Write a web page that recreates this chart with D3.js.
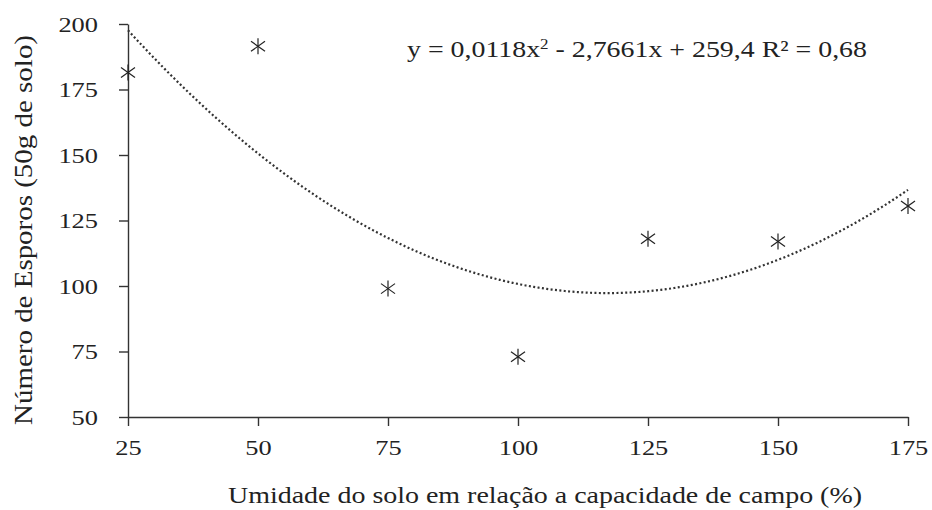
<!DOCTYPE html>
<html>
<head>
<meta charset="utf-8">
<script src="https://d3js.org/d3.v7.min.js"></script>
<style>
  body { margin: 0; background: #fff; }
  text { font-family: "Liberation Serif", "Times New Roman", Times, serif; fill: #222; }
</style>
</head>
<body>
<div id="chart"></div>
<script>
// data
const umidade = [25, 50, 75, 100, 125, 150, 175];
const esporos = [181.5, 191.5, 99, 73, 118, 117, 130.5];
// trend line coefficients as printed on the chart (a, b, c)
const coef = [0.0118, -2.7661, 259.4];
const xTicks = [25, 50, 75, 100, 125, 150, 175];
const yTicks = [50, 75, 100, 125, 150, 175, 200];

const width = 932, height = 510;
const margin = {top: 24, right: 24, bottom: 93, left: 128};
const serif = "'Liberation Serif', 'Times New Roman', Times, serif";

const svg = d3.select("#chart").append("svg")
  .attr("width", width)
  .attr("height", height);

const x = d3.scaleLinear().domain([25, 175]).range([margin.left, width - margin.right]);
const y = d3.scaleLinear().domain([50, 200]).range([height - margin.bottom, margin.top]);

// x axis
const gx = svg.append("g")
  .attr("transform", `translate(0,${height - margin.bottom})`)
  .call(d3.axisBottom(x).tickValues(xTicks).tickSize(9).tickSizeOuter(0).tickPadding(13));
// y axis
const gy = svg.append("g")
  .attr("transform", `translate(${margin.left},0)`)
  .call(d3.axisLeft(y).tickValues(yTicks).tickSize(9).tickSizeOuter(0).tickPadding(16));

[gx, gy].forEach(g => {
  g.attr("font-family", serif);
  g.select(".domain").attr("stroke", "#333").attr("stroke-width", 1.4);
  g.selectAll(".tick line").attr("stroke", "#333").attr("stroke-width", 1.4);
  g.selectAll(".tick text")
    .attr("font-size", 22)
    .attr("fill", "#222")
    .attr("transform", "scale(1.2,1)");
});
gx.selectAll(".tick text").attr("dy", "0.75em");

// trend line
const curveX = d3.range(25, 175.5, 0.5);
const trend = d3.line()
  .x(d => x(d))
  .y(d => y(coef[0] * d * d + coef[1] * d + coef[2]));
svg.append("path")
  .datum(curveX)
  .attr("fill", "none")
  .attr("stroke", "#333")
  .attr("stroke-width", 2.2)
  .attr("stroke-dasharray", "2,2.4")
  .attr("d", trend);

// asterisk markers
const pts = svg.append("g").selectAll("g")
  .data(umidade.map((u, i) => [u, esporos[i]]))
  .join("g")
  .attr("transform", d => `translate(${x(d[0])},${y(d[1])})`)
  .attr("stroke", "#222")
  .attr("stroke-width", 1.2);
pts.append("line").attr("x1", 0).attr("x2", 0).attr("y1", -8).attr("y2", 8);
pts.append("line").attr("x1", -7).attr("x2", 7).attr("y1", -5).attr("y2", 5);
pts.append("line").attr("x1", -7).attr("x2", 7).attr("y1", 5).attr("y2", -5);

// equation
const eq = svg.append("text")
  .attr("x", 407).attr("y", 57)
  .attr("font-size", 23)
  .attr("textLength", 460)
  .attr("lengthAdjust", "spacingAndGlyphs");
eq.append("tspan").text("y = 0,0118x");
eq.append("tspan").attr("font-size", 14).attr("dy", -8).text("2");
eq.append("tspan").attr("dy", 8).text(" - 2,7661x + 259,4 R² = 0,68");

// axis titles
svg.append("text")
  .attr("x", 545).attr("y", 503)
  .attr("text-anchor", "middle")
  .attr("font-size", 24)
  .attr("textLength", 634)
  .attr("lengthAdjust", "spacingAndGlyphs")
  .text("Umidade do solo em relação a capacidade de campo (%)");

svg.append("text")
  .attr("transform", "translate(32,230) rotate(-90) scale(1,1.1)")
  .attr("text-anchor", "middle")
  .attr("font-size", 23)
  .attr("textLength", 390)
  .attr("lengthAdjust", "spacingAndGlyphs")
  .text("Número de Esporos (50g de solo)");
</script>
</body>
</html>
